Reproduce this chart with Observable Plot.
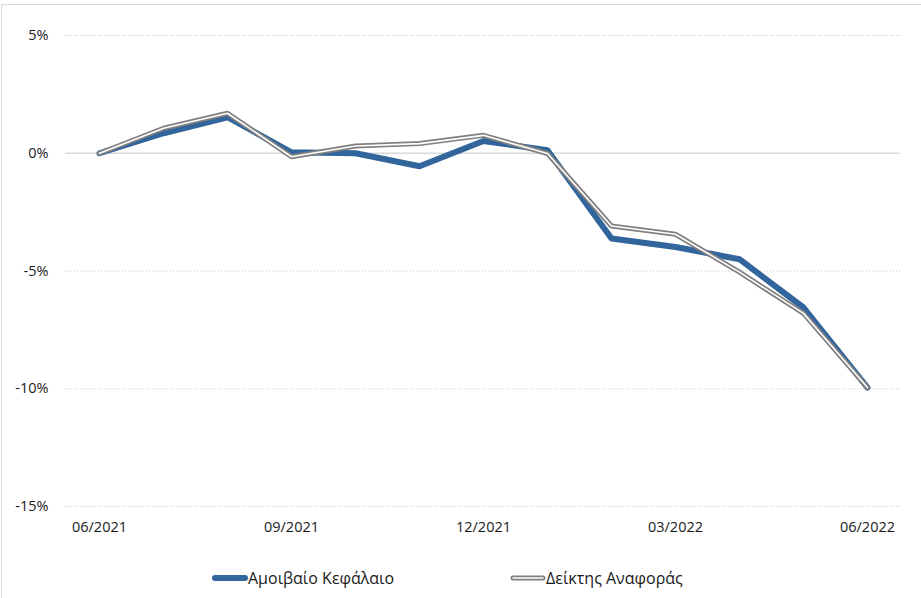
<!DOCTYPE html>
<html>
<head>
<meta charset="utf-8">
<script src="https://cdn.jsdelivr.net/npm/d3@7"></script>
<script src="https://cdn.jsdelivr.net/npm/@observablehq/plot@0.6"></script>
<style>
  body { margin: 0; background: #fff; }
  #wrap { position: relative; width: 921px; height: 598px; overflow: hidden; font-family: "Open Sans", "Noto Sans", sans-serif; }
  #frame { position: absolute; left: 1px; top: 4px; width: 940px; height: 620px; border-left: 1px solid #d9d9d9; border-top: 1px solid #d9d9d9; box-sizing: border-box; }
  #chart { position: absolute; left: 0; top: 0; }
  #legend { position: absolute; left: 0; top: 568px; width: 921px; height: 20px; font-size: 16px; color: #1a1a1a; }
  .item { position: absolute; top: 0; display: flex; align-items: center; height: 20px; }
  .item svg { display: block; }
</style>
</head>
<body>
<div id="wrap">
  <div id="frame"></div>
  <div id="chart"></div>
  <div id="legend"></div>
</div>
<script>
const months = ["06/2021","07/2021","08/2021","09/2021","10/2021","11/2021","12/2021","01/2022","02/2022","03/2022","04/2022","05/2022","06/2022"];
const fund = [0, 0.85, 1.53, 0.04, 0.0, -0.55, 0.52, 0.13, -3.62, -3.98, -4.5, -6.55, -9.95];
const bench = [0, 1.06, 1.7, -0.15, 0.31, 0.41, 0.76, -0.01, -3.09, -3.44, -5.05, -6.8, -9.95];
const xTicks = ["06/2021","09/2021","12/2021","03/2022","06/2022"];
const yTicks = [5, 0, -5, -10, -15];
const seriesNames = ["Αμοιβαίο Κεφάλαιο", "Δείκτης Αναφοράς"];

const fundData = months.map((m, i) => ({month: m, value: fund[i]}));
const benchData = months.map((m, i) => ({month: m, value: bench[i]}));

const chart = Plot.plot({
  width: 921,
  height: 550,
  marginLeft: 65,
  marginRight: 21,
  marginTop: 35,
  marginBottom: 44,
  style: {fontFamily: "'Open Sans', 'Noto Sans', sans-serif", fontSize: "14.5px", color: "#1a1a1a", background: "transparent"},
  x: {type: "point", domain: months, padding: 0.5, label: null},
  y: {domain: [-15, 5], label: null},
  marks: [
    Plot.ruleY(yTicks.filter(d => d !== 0), {stroke: "#c8c8c8", strokeWidth: 1, strokeDasharray: "1,2"}),
    Plot.ruleY([0], {stroke: "#d9d9d9", strokeWidth: 1.5}),
    Plot.axisY({ticks: yTicks, tickSize: 0, tickPadding: 17, tickFormat: d => d + "%", fontSize: 14.5}),
    Plot.axisX({ticks: xTicks, tickSize: 0, tickPadding: 15, fontSize: 14.5}),
    Plot.lineY(fundData, {x: "month", y: "value", stroke: "#31659c", strokeWidth: 6, strokeLinejoin: "round", strokeLinecap: "round"}),
    Plot.lineY(benchData, {x: "month", y: "value", stroke: "#808080", strokeWidth: 5, strokeLinejoin: "round", strokeLinecap: "round"}),
    Plot.lineY(benchData, {x: "month", y: "value", stroke: "#ffffff", strokeWidth: 1.6, strokeLinejoin: "round", strokeLinecap: "round"})
  ]
});
document.getElementById("chart").appendChild(chart);

// Legend
const legend = document.getElementById("legend");
function addItem(left, name, kind) {
  const div = document.createElement("div");
  div.className = "item";
  div.style.left = left + "px";
  const ns = "http://www.w3.org/2000/svg";
  const svg = document.createElementNS(ns, "svg");
  svg.setAttribute("width", 36);
  svg.setAttribute("height", 20);
  const mk = (stroke, w) => {
    const l = document.createElementNS(ns, "line");
    l.setAttribute("x1", 3); l.setAttribute("x2", 33);
    l.setAttribute("y1", 10); l.setAttribute("y2", 10);
    l.setAttribute("stroke", stroke);
    l.setAttribute("stroke-width", w);
    l.setAttribute("stroke-linecap", "round");
    svg.appendChild(l);
  };
  if (kind === "fund") mk("#31659c", 6);
  else { mk("#808080", 5); mk("#ffffff", 1.6); }
  div.appendChild(svg);
  const span = document.createElement("span");
  span.textContent = name;
  div.appendChild(span);
  legend.appendChild(div);
}
addItem(212, seriesNames[0], "fund");
addItem(510, seriesNames[1], "bench");
</script>
</body>
</html>
